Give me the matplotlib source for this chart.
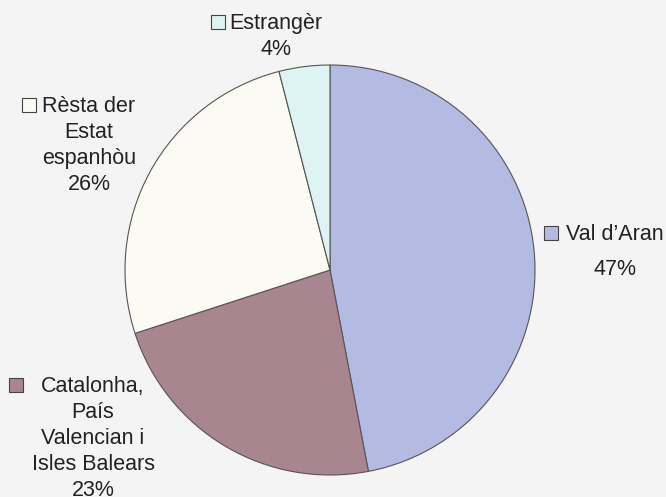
import matplotlib.pyplot as plt

labels = ["Val d\u2019Aran", "Catalonha,\nPaís\nValencian i\nIsles Balears", "Rèsta der\nEstat\nespanhòu", "Estrangèr"]
shares = [47, 23, 26, 4]
colors = ["#b3bbe2", "#a9868f", "#fbfaf3", "#def4f3"]

# label anchor (centre of text block, first line middle) and square position, in pixels from top-left
label_pos = [(615, 233), (93, 385), (89, 105), (276, 22)]
square_pos = [(551, 233), (16, 385), (29, 105), (218, 22)]
spacing = [1.9, 1.31, 1.31, 1.31]

W, H = 666, 497
plt.rcParams['font.family'] = ['Liberation Sans', 'DejaVu Sans']

fig = plt.figure(figsize=(W / 100, H / 100), dpi=100, facecolor="#f4f4f4")
ax = fig.add_axes([0, 0, 1, 1])
ax.set_facecolor("#f4f4f4")

ax.pie(shares, colors=colors, startangle=90, counterclock=False,
       center=(330, H - 270), radius=205, frame=True,
       wedgeprops=dict(edgecolor="#555555", linewidth=0.8))
ax.set_xlim(0, W)
ax.set_ylim(0, H)
ax.set_aspect("equal")
ax.axis("off")

for lab, val, col, (lx, ly), (sx, sy), ls in zip(labels, shares, colors, label_pos, square_pos, spacing):
    ax.text(lx, H - ly + 9, f"{lab}\n{val}%", ha="center", va="top",
            fontsize=15.5, color="#222222", linespacing=ls)
    ax.plot(sx, H - sy, marker="s", markersize=10, markerfacecolor=col,
            markeredgecolor="#444444", markeredgewidth=0.8, clip_on=False)

fig.savefig("out.png", dpi=100, facecolor=fig.get_facecolor())
